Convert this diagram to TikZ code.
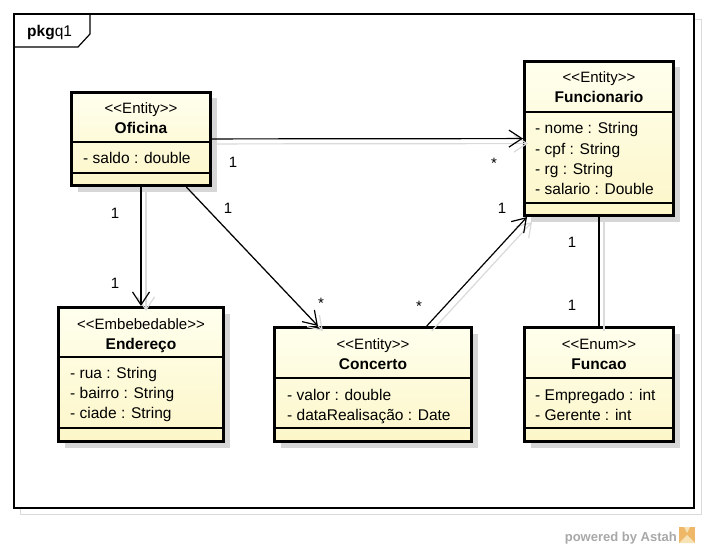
\documentclass[tikz,border=0pt]{standalone}
\usepackage{fontspec}
\setmainfont{Liberation Sans}
\usepackage{tikz}
\usetikzlibrary{arrows.meta,positioning}
\definecolor{boxtop}{RGB}{255,255,238}
\definecolor{boxbottom}{RGB}{252,246,200}
\definecolor{boxshade}{RGB}{214,214,214}
\definecolor{linkshade}{RGB}{218,218,218}
\definecolor{astahgray}{RGB}{168,168,168}
\definecolor{astahlogo}{RGB}{238,184,104}
\definecolor{astahpale}{RGB}{246,226,180}
\newcommand{\stname}[1]{<\kern0pt<#1>\kern0pt>}

\begin{document}
\begin{tikzpicture}[
  x=1pt, y=-1pt,
  classbox/.style={draw, line width=3pt, inner sep=0pt,
    top color=boxtop, bottom color=boxbottom,
    preaction={fill=boxshade, transform canvas={shift={(6pt,-6pt)}}}},
  divider/.style={line width=1.2pt},
  stereo/.style={anchor=base, inner sep=0pt, font=\fontsize{15}{17}\selectfont},
  cname/.style={anchor=base, inner sep=0pt, font=\bfseries\fontsize{15.5}{17}\selectfont},
  attr/.style={anchor=base west, inner sep=0pt, font=\fontsize{15.5}{17}\selectfont},
  mult/.style={anchor=base, inner sep=0pt, font=\fontsize{15}{17}\selectfont},
  link/.style={line width=1.2pt,
    preaction={draw=linkshade, line width=1.2pt, transform canvas={shift={(5pt,-5pt)}}}},
  arrow/.style={link, -{Straight Barb[length=13pt,width=17pt]}}
]
\useasboundingbox (0,0) rectangle (708,548);

% package frame
\draw[linkshade, line width=1pt] (20,20) rectangle (701,514);
\draw[fill=white, line width=1.2pt] (14,14) rectangle (694,508);
\draw[line width=1.2pt] (14,47) -- (78,47) -- (90,34) -- (90,14);
\node[anchor=base west, inner sep=0pt, font=\fontsize{15.5}{17}\selectfont] (pkg) at (27,37) {\textbf{pkg}q1};

% classes
\node[classbox, minimum width=139pt, minimum height=93pt] (ofi) at (141,139) {};
\node[stereo] (ofi-st) at (141,114) {\stname{Entity}};
\node[cname] (ofi-nm) at (141,134) {Oficina};
\draw[divider] (ofi.west |- 0,142) -- (ofi.east |- 0,142);
\node[attr] (ofi-a1) at (83,164) {- saldo : double};
\draw[divider] (ofi.west |- 0,173) -- (ofi.east |- 0,173);

\node[classbox, minimum width=149pt, minimum height=154pt] (fun) at (599,138.5) {};
\node[stereo] (fun-st) at (599,83) {\stname{Entity}};
\node[cname] (fun-nm) at (599,103) {Funcionario};
\draw[divider] (fun.west |- 0,112) -- (fun.east |- 0,112);
\node[attr] (fun-a1) at (535,134) {- nome : String};
\node[attr] (fun-a2) at (535,154) {- cpf : String};
\node[attr] (fun-a3) at (535,174) {- rg : String};
\node[attr] (fun-a4) at (535,194) {- salario : Double};
\draw[divider] (fun.west |- 0,203) -- (fun.east |- 0,203);

\node[classbox, minimum width=165pt, minimum height=134pt] (endr) at (141,374.5) {};
\node[stereo] (endr-st) at (141,329) {\stname{Embebedable}};
\node[cname] (endr-nm) at (141,349) {Endereço};
\draw[divider] (endr.west |- 0,357) -- (endr.east |- 0,357);
\node[attr] (endr-a1) at (70,378) {- rua : String};
\node[attr] (endr-a2) at (70,398) {- bairro : String};
\node[attr] (endr-a3) at (70,418) {- ciade : String};
\draw[divider] (endr.west |- 0,428) -- (endr.east |- 0,428);

\node[classbox, minimum width=197pt, minimum height=114pt] (con) at (373,384.5) {};
\node[stereo] (con-st) at (373,349) {\stname{Entity}};
\node[cname] (con-nm) at (373,369) {Concerto};
\draw[divider] (con.west |- 0,378) -- (con.east |- 0,378);
\node[attr] (con-a1) at (287,400) {- valor : double};
\node[attr] (con-a2) at (287,420) {- dataRealisação : Date};
\draw[divider] (con.west |- 0,428) -- (con.east |- 0,428);

\node[classbox, minimum width=149pt, minimum height=114pt] (fca) at (599,384.5) {};
\node[stereo] (fca-st) at (599,349) {\stname{Enum}};
\node[cname] (fca-nm) at (599,369) {Funcao};
\draw[divider] (fca.west |- 0,378) -- (fca.east |- 0,378);
\node[attr] (fca-a1) at (535,400) {- Empregado : int};
\node[attr] (fca-a2) at (535,420) {- Gerente : int};
\draw[divider] (fca.west |- 0,428) -- (fca.east |- 0,428);

% associations
\draw[arrow] (ofi) -- (fun);
\draw[arrow] (ofi) -- (endr);
\draw[arrow] (ofi) -- (con);
\draw[arrow] (con) -- (fun);
\draw[link] (fun) -- (fca);

\node[mult] (m-of1) at (233,167) {1};
\node[mult] (m-of2) at (494,168) {*};
\node[mult] (m-oe1) at (115,218) {1};
\node[mult] (m-oe2) at (115,288) {1};
\node[mult] (m-oc1) at (228,213) {1};
\node[mult] (m-oc2) at (321,308) {*};
\node[mult] (m-cf1) at (419,311) {*};
\node[mult] (m-cf2) at (502,213) {1};
\node[mult] (m-ff1) at (572,247) {1};
\node[mult] (m-ff2) at (572,310) {1};

% footer
\node[anchor=base east, inner sep=0pt, text=astahgray, font=\bfseries\fontsize{13}{15}\selectfont] (pwr) at (677,541) {powered by Astah};
\fill[astahlogo] (679,527) rectangle (695,543);
\fill[astahpale] (679,543) -- (687,535) -- (695,543) -- cycle;
\fill[astahpale] (684,527) -- (687,533) -- (690,527) -- cycle;
\end{tikzpicture}
\end{document}
